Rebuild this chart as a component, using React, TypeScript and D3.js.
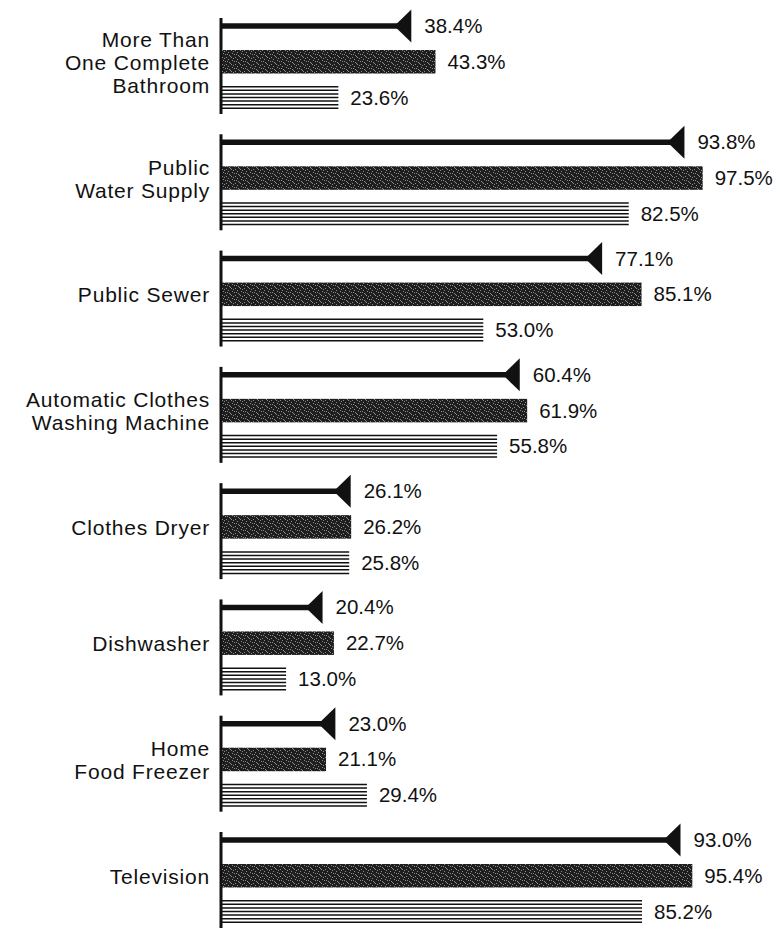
import React from "react";
import * as d3 from "d3";

const categories: string[] = [
  "More Than\nOne Complete\nBathroom",
  "Public\nWater Supply",
  "Public Sewer",
  "Automatic Clothes\nWashing Machine",
  "Clothes Dryer",
  "Dishwasher",
  "Home\nFood Freezer",
  "Television",
];
const arrowValues: number[] = [38.4, 93.8, 77.1, 60.4, 26.1, 20.4, 23.0, 93.0];
const solidValues: number[] = [43.3, 97.5, 85.1, 61.9, 26.2, 22.7, 21.1, 95.4];
const stripedValues: number[] = [23.6, 82.5, 53.0, 55.8, 25.8, 13.0, 29.4, 85.2];

const W = 780;
const H = 929;
const FONT = "'Liberation Sans', Arial, Helvetica, sans-serif";

const specks: [number, number][] = [
  [1, 1], [5, 0], [3, 3], [7, 4], [0, 5], [4, 6], [8, 2], [2, 5], [6, 1],
];

export default function App() {
  const x = d3.scaleLinear().domain([0, 100]).range([222, 715]);
  const y = d3.scalePoint<string>().domain(categories).range([26, 840]);
  const x0 = x(0);
  const fmt = (v: number) => d3.format(".1f")(v) + "%";

  return (
    <svg
      width={W}
      height={H}
      style={{ position: "absolute", left: 0, top: 0, background: "#fff" }}
      fontFamily={FONT}
    >
      <defs>
        <pattern id="grain" width="9" height="7" patternUnits="userSpaceOnUse">
          <rect width="9" height="7" fill="#1e1e1e" />
          {specks.map(([sx, sy], i) => (
            <rect key={i} x={sx} y={sy} width="1" height="1" fill="#8c8c8c" />
          ))}
        </pattern>
      </defs>
      <rect width={W} height={H} fill="#fff" />
      {categories.map((cat, i) => {
        const cy = y(cat) as number;
        const lines = cat.split("\n");
        const darkTop = cy + 24;
        const darkH = 23.5;
        const stripeTop = cy + 60;
        const stripeH = 23;
        const darkC = darkTop + darkH / 2;
        const stripeC = stripeTop + stripeH / 2;
        const aEnd = x(arrowValues[i]);
        const sEnd = x(solidValues[i]);
        const tEnd = x(stripedValues[i]);
        const nStripes = 7;
        const stripeYs = d3.range(nStripes).map(
          (k) => stripeTop + 0.75 + (k * (stripeH - 1.5)) / (nStripes - 1)
        );
        return (
          <g key={cat}>
            {lines.map((ln, k) => (
              <text
                key={k}
                x={210}
                y={darkC + 8 + (k - (lines.length - 1) / 2) * 23}
                textAnchor="end"
                fontSize={21}
                letterSpacing={0.8}
                fill="#111"
              >
                {ln}
              </text>
            ))}
            <line
              x1={x0 - 1}
              x2={x0 - 1}
              y1={cy - 8}
              y2={cy + 88}
              stroke="#111"
              strokeWidth={3}
            />
            <line
              x1={x0}
              x2={aEnd - 8}
              y1={cy}
              y2={cy}
              stroke="#111"
              strokeWidth={5.5}
            />
            <path
              d={`M${aEnd},${cy - 16.5}L${aEnd},${cy + 16.5}L${aEnd - 17},${cy}Z`}
              fill="#111"
            />
            <text x={aEnd + 13} y={cy + 7} fontSize={20.5} fill="#111">
              {fmt(arrowValues[i])}
            </text>
            <rect
              x={x0}
              y={darkTop}
              width={sEnd - x0}
              height={darkH}
              fill="url(#grain)"
            />
            <text x={sEnd + 12} y={darkC + 7} fontSize={20.5} fill="#111">
              {fmt(solidValues[i])}
            </text>
            {stripeYs.map((sy, k) => (
              <line
                key={k}
                x1={x0}
                x2={tEnd}
                y1={sy}
                y2={sy}
                stroke="#111"
                strokeWidth={1.5}
              />
            ))}
            <text x={tEnd + 12} y={stripeC + 7} fontSize={20.5} fill="#111">
              {fmt(stripedValues[i])}
            </text>
          </g>
        );
      })}
    </svg>
  );
}
